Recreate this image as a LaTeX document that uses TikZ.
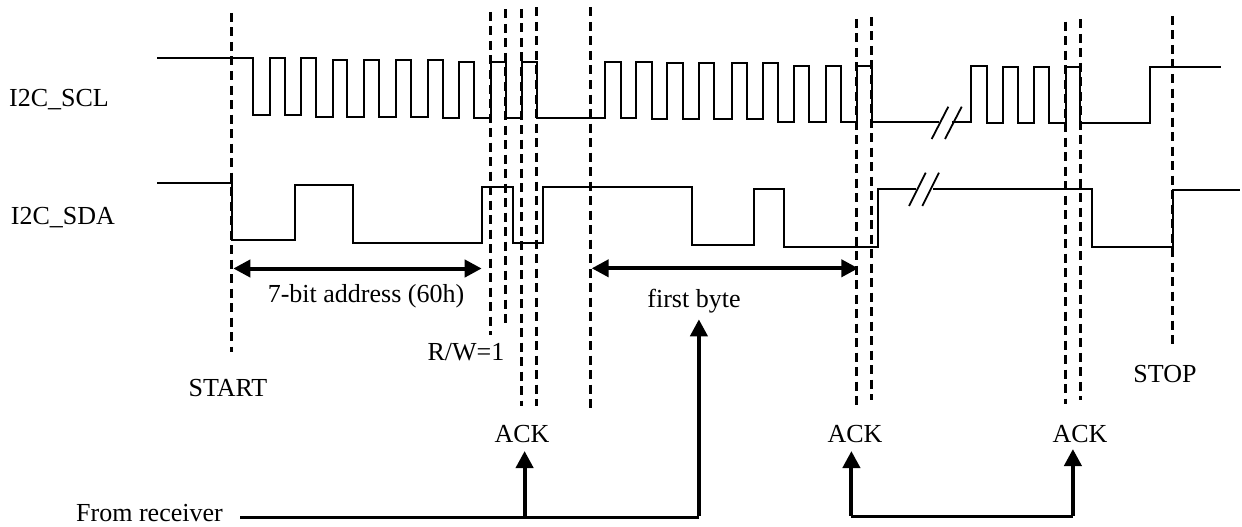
\documentclass[tikz,border=0pt]{standalone}
\usepackage{fontspec}
\setmainfont{Liberation Serif}
\usetikzlibrary{arrows.meta,positioning}
\begin{document}
\begin{tikzpicture}[x=1pt,y=-1pt, every node/.style={font=\fontsize{26}{30}\selectfont,inner sep=0pt,anchor=base}, w/.style={line width=2pt,line join=miter}, d/.style={line width=2.7pt,dash pattern=on 9pt off 5.5pt}, a/.style={-{Triangle[length=17pt,width=17pt]},line width=4pt}, r/.style={line width=2.6pt}, t/.style={line width=1.8pt}, s/.style={{Triangle[length=17pt,width=17pt]}-{Triangle[length=17pt,width=17pt]},line width=4pt}]
\useasboundingbox (0,0) rectangle (1242,527);
% labels
\node (scl) at (59,106) {I2C\_SCL};
\node (sda) at (63,224) {I2C\_SDA};
\node (addr) at (366,302.7) {7-bit address (60h)};
\node (rw) at (466,360) {R/W=1};
\node (start) at (228,396) {START};
\node (byte) at (694,307.3) {first byte};
\node (stop) at (1165,382.3) {STOP};
\node (ackone) at (522,442.3) {ACK};
\node (acktwo) at (855,442.3) {ACK};
\node (ackthree) at (1080,442.3) {ACK};
\node (recv) at (149.5,521.7) {From receiver};
% clock
\draw[w] (157,58.5) -| (253,115) -| (269.5,58.5) -| (285,115) -| (301,58.5) -| (316,116.7) -| (332.7,60) -| (347,116.7) -| (364,60) -| (379,116.7) -| (396,60) -| (411,116.7) -| (428,60) -| (443,118) -| (459,61.7) -| (474,118) -| (490.5,61.7) -| (505.5,118) -| (522,61.7) -| (537,118) -| (605,61.7) -| (620.7,118) -| (636,61.7) -| (651.7,119.3) -| (667,63.3) -| (682.7,119.3) -| (699,63.3) -| (714,119.3) -| (731.7,63.3) -| (746.7,119.3) -| (762.7,63.3) -| (778,121.7) -| (794,65.7) -| (809,121.7) -| (826,65.7) -| (840.7,121.7) -| (856.7,65.7) -| (871.7,121.7) -- (939,121.7);
\draw[w] (952,121.7) -| (971,65.7) -| (986.7,123.3) -| (1002.7,67) -| (1018,123.3) -| (1033.7,67) -| (1049,123.3) -| (1065.7,67) -| (1080,123.3) -| (1150,67) -- (1220.7,67);
% data
\draw[w] (157,183) -| (231.5,240) -| (295,185) -| (353.3,243.3) -| (481.7,186.7) -| (512.7,243.3) -| (542.7,187) -| (691.7,245) -| (754.3,189) -| (784,246.7) -| (877.5,189) -- (915.7,189);
\draw[w] (933,189) -| (1092.3,246.7) -| (1172.7,190.3) -- (1240,190.3);
% breaks
\draw[t] (931.7,139)--(948.3,106.7) (945,139)--(961.7,106.7);
\draw[t] (909,206)--(925.7,172.7) (922.3,206)--(939,172.7);
% dashed markers
\foreach \x/\ya/\yb in {231.5/13/352,490.5/12/335,505.5/9.5/325,521.7/9/406,536.7/7.5/406,590.7/7.5/408,856.8/19/407,871.8/17/400,1065.7/21.7/404,1080.2/19.3/400,1172.8/16/347}
\draw[d] (\x,\ya)--(\x,\yb);
% spans
\coordinate (addrl) at (233.3,268.5);
\coordinate (addrr) at (481.7,268.5);
\coordinate (bytel) at (591.7,268.3);
\coordinate (byter) at (858.3,268.3);
\draw[s] (addrl)--(addrr);
\draw[s] (bytel)--(byter);
% from receiver
\coordinate (busa) at (240,517.3);
\coordinate (busb) at (524.6,517.3);
\coordinate (busc) at (698.9,517.3);
\coordinate (busd) at (851.4,516.7);
\coordinate (buse) at (1072.9,516.7);
\coordinate (tipb) at (524.6,451);
\coordinate (tipc) at (698.9,319.3);
\coordinate (tipd) at (851.4,451);
\coordinate (tipe) at (1072.9,449);
\draw[r] (busa)--(busc);
\draw[r] (busd)--(buse);
\draw[a] (busb)--(tipb);
\draw[a] ([yshift=1.7pt]busc)--(tipc);
\draw[a] ([yshift=1.2pt]busd)--(tipd);
\draw[a] ([yshift=1.2pt]buse)--(tipe);
\end{tikzpicture}
\end{document}
